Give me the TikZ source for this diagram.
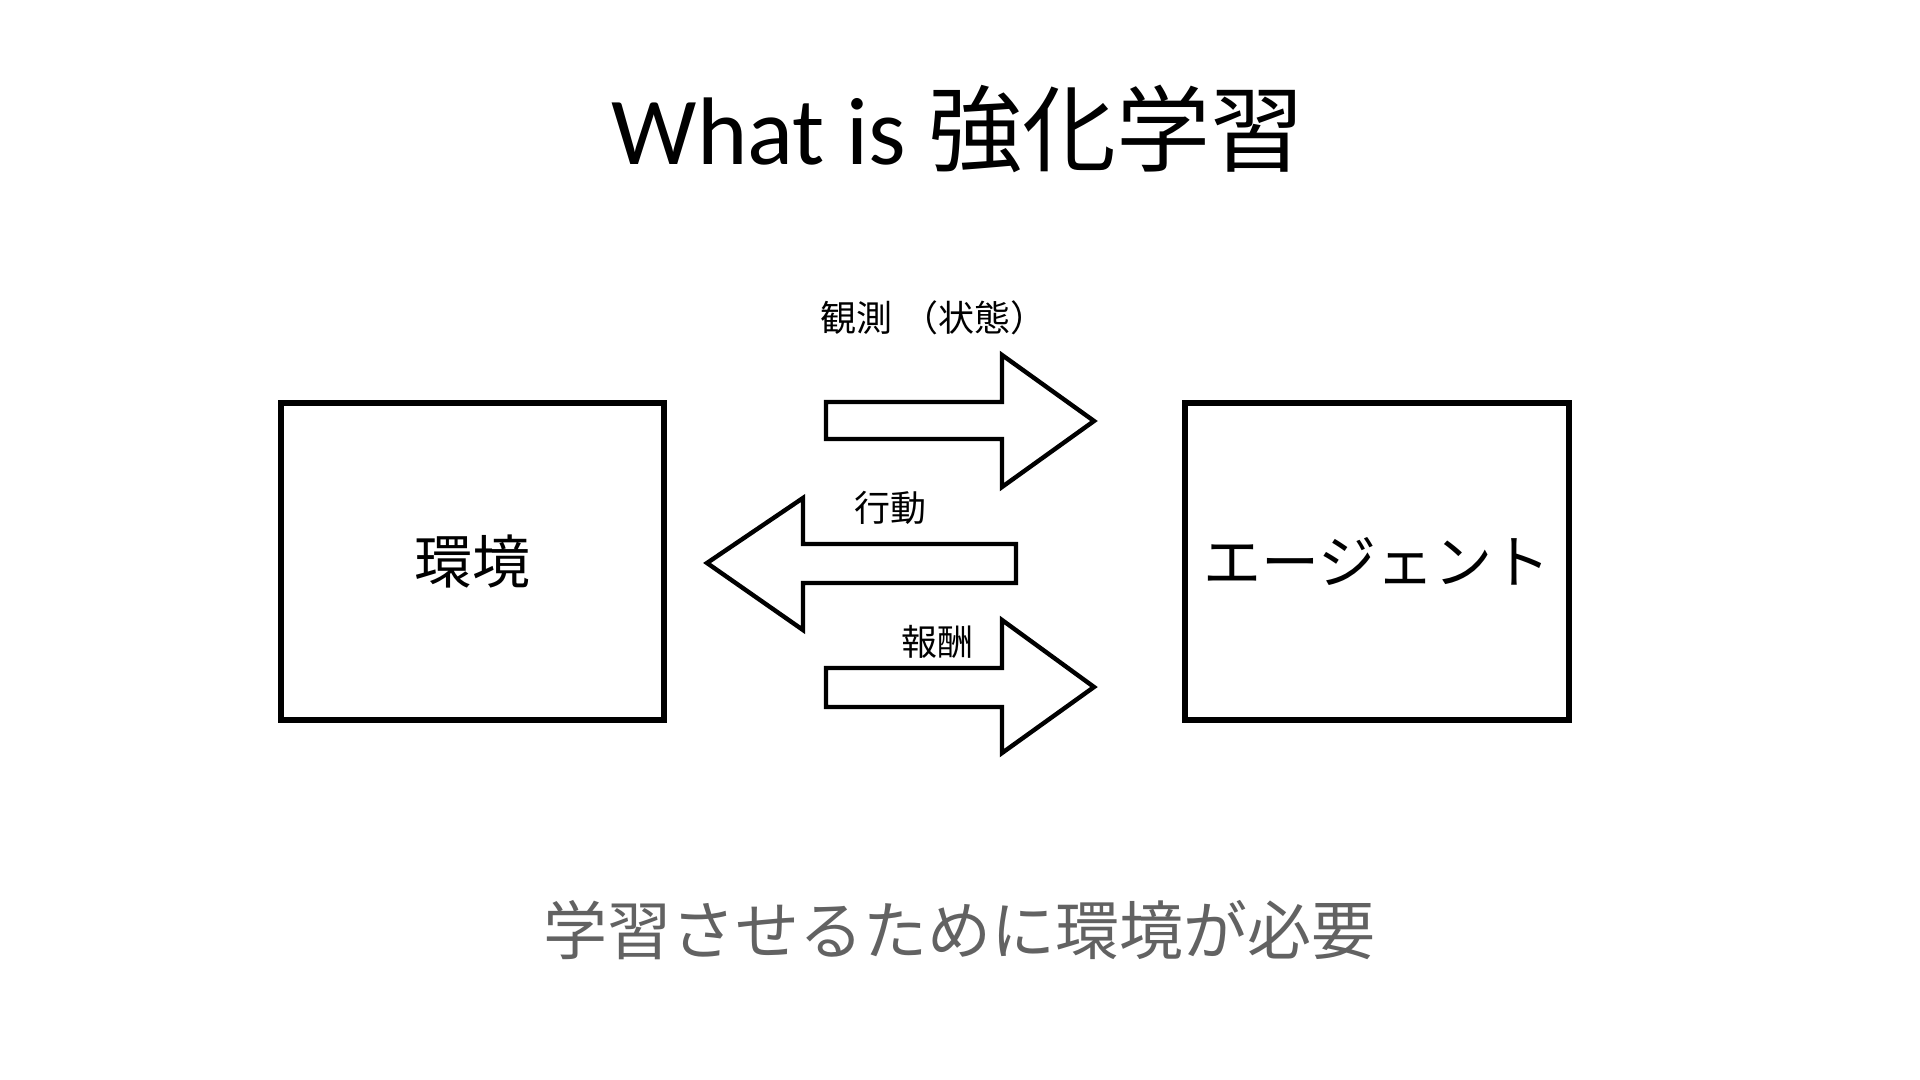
\documentclass[tikz,border=0pt]{standalone}
\usepackage{fontspec}
\setmainfont{Noto Sans CJK JP}
\newfontfamily\latinfont{Carlito}
\definecolor{textgray}{RGB}{98,98,98}
\begin{document}
\begin{tikzpicture}[x=0.5pt,y=-0.5pt,
  box/.style={draw=black,line width=2.9pt,inner sep=0pt,font=\fontsize{29}{32}\selectfont},
  blockarrow/.style={draw=black,line width=2.2pt,fill=white,line join=miter},
  lbl/.style={inner sep=0pt,anchor=base west,font=\fontsize{18}{20}\selectfont},
]
\fill[white] (0,0) rectangle (1920,1080);
\useasboundingbox (0,0) rectangle (1920,1080);

% title
\node[anchor=base,inner sep=0pt] (title) at (958,165)
  {\fontsize{48}{56}\selectfont{\latinfont What is }{\fontsize{47}{56}\selectfont 強化学習}};

% boxes
\node[box,minimum width=191.5pt,minimum height=158.5pt] (env) at (472.5,561.5) {環境};
\node[box,minimum width=192pt,minimum height=158.5pt] (agent) at (1377,561.5) {エージェント};

% block arrows
\draw[blockarrow] (826,402) -- (1002,402) -- (1002,355) -- (1094,421) -- (1002,487) -- (1002,439) -- (826,439) -- cycle;
\draw[blockarrow] (1016,544) -- (803,544) -- (803,498) -- (707,563) -- (803,630) -- (803,583) -- (1016,583) -- cycle;
\draw[blockarrow] (826,668) -- (1002,668) -- (1002,620) -- (1094,687) -- (1002,753) -- (1002,707) -- (826,707) -- cycle;

% labels
\node[lbl] (obs) at (820,332) {観測\kern5pt（状態）};
\node[lbl] (act) at (854,521) {行動};
\node[lbl] (rew) at (901,655) {報酬};

% bottom message
\node[inner sep=0pt,text=textgray,font=\fontsize{32}{36}\selectfont] (msg) at (959,930) {学習させるために環境が必要};
\end{tikzpicture}
\end{document}
